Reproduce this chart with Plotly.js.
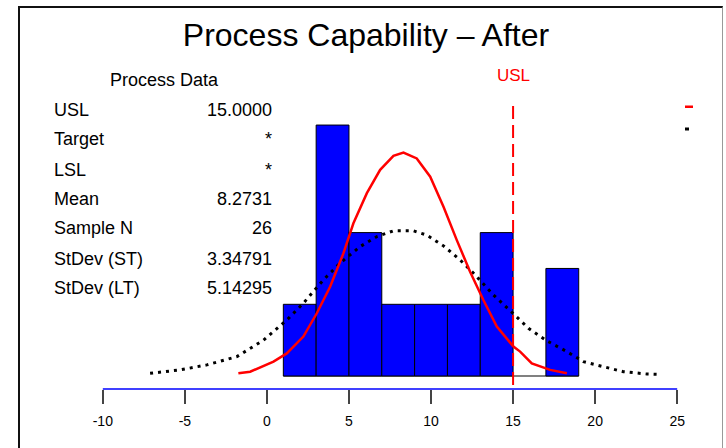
<!DOCTYPE html>
<html>
<head>
<meta charset="utf-8">
<script src="https://cdn.plot.ly/plotly-3.0.1.min.js"></script>
<style>
html,body{margin:0;padding:0;background:#fff;}
#wrap{position:relative;width:726px;height:448px;overflow:hidden;}
#chart{position:absolute;left:0;top:0;width:726px;height:448px;}
#frame{position:absolute;left:18px;top:6px;width:705px;height:470px;box-sizing:border-box;
  border-left:2px solid #111;border-top:2px solid #111;border-right:1px solid #999;pointer-events:none;}
</style>
</head>
<body>
<div id="wrap"><div id="chart"></div><div id="frame"></div></div>
<script>
// ---- data ----
const binCenters = [2, 4, 6, 8, 10, 12, 14, 16, 18];
const binCounts  = [2, 7, 4, 2, 2, 2, 4, 0, 3];
const binWidth   = 2;

// within (ST) fitted curve, red
const stX = [-1.74, -1.02, 0.40, 1.21, 2.22, 3.04, 3.85, 4.66, 5.27, 6.09, 6.90, 7.71, 8.32, 9.13, 9.95, 10.76, 11.57, 12.38, 13.19, 14.01, 15.02, 15.43, 16.14, 17.26, 18.28];
const stY = [0.075, 0.12, 0.40, 0.63, 1.10, 1.75, 2.49, 3.42, 4.26, 5.10, 5.75, 6.14, 6.23, 6.07, 5.56, 4.72, 3.79, 2.91, 2.12, 1.38, 0.82, 0.68, 0.35, 0.17, 0.075];

// overall (LT) fitted curve, black dotted
const ltX = [-7.12, -5.29, -3.66, -1.83, -0.21, 1.21, 2.22, 3.44, 4.46, 5.68, 6.70, 7.71, 8.93, 9.74, 10.76, 11.77, 12.69, 13.80, 14.99, 15.94, 17.06, 18.28, 19.29, 20.51, 21.72, 23.15, 23.76];
const ltY = [0.075, 0.17, 0.31, 0.54, 1.00, 1.56, 2.03, 2.68, 3.15, 3.61, 3.89, 4.05, 4.05, 3.93, 3.63, 3.24, 2.82, 2.26, 1.75, 1.33, 0.98, 0.68, 0.40, 0.26, 0.12, 0.056, 0.05];

const usl = 15;
const tickVals = [-10, -5, 0, 5, 10, 15, 20, 25];
const tickText = ['-10', '-5', '0', '5', '10', '15', '20', '25'];
const axisMin = -10, axisMax = 25;

const procTitle  = 'Process Data';
const procLabels = ['USL', 'Target', 'LSL', 'Mean', 'Sample N', 'StDev (ST)', 'StDev (LT)'];
const procValues = ['15.0000', '*', '*', '8.2731', '26', '3.34791', '5.14295'];

// ---- layout helpers (pixel -> paper) ----
const W = 726, H = 448, L = 70, R = 16, T = 100, B = 59;
const PW = W - L - R, PH = H - T - B;
const xp = px => (px - L) / PW;
const yp = py => (H - B - py) / PH;
const FONT = 'Liberation Sans, Arial, sans-serif';

const rowY = [110, 139, 170, 199, 228, 259, 288];

const annotations = [];
annotations.push({xref:'paper', yref:'paper', x:xp(164), y:yp(80), text:procTitle, showarrow:false,
  xanchor:'center', yanchor:'middle', font:{family:FONT, size:18, color:'#000'}});
procLabels.forEach((lab, i) => {
  annotations.push({xref:'paper', yref:'paper', x:xp(52), y:yp(rowY[i]), text:lab, showarrow:false,
    xanchor:'left', yanchor:'middle', font:{family:FONT, size:18, color:'#000'}});
  annotations.push({xref:'paper', yref:'paper', x:xp(274), y:yp(rowY[i]), text:procValues[i], showarrow:false,
    xanchor:'right', yanchor:'middle', font:{family:FONT, size:18, color:'#000'}});
});
annotations.push({xref:'x', yref:'paper', x:usl, y:yp(75), text:'USL', showarrow:false,
  xanchor:'center', yanchor:'middle', font:{family:FONT, size:17, color:'#FF0000'}});

const shapes = [
  // gray baseline under histogram
  {type:'line', xref:'x', yref:'y', x0:binCenters[0]-binWidth/2, x1:binCenters[binCenters.length-1]+binWidth/2, y0:0, y1:0,
   line:{color:'#808080', width:2}, layer:'below'},
  // blue axis line
  {type:'line', xref:'x', yref:'paper', x0:axisMin, x1:axisMax, y0:0, y1:0, line:{color:'#0000FF', width:1.5}},
  // USL dashed line
  {type:'line', xref:'x', yref:'paper', x0:usl, x1:usl, y0:yp(106), y1:0, line:{color:'#FF0000', width:2, dash:'13px,6px'}},
  // legend samples
  {type:'rect', xref:'paper', yref:'paper', x0:xp(685), x1:xp(693), y0:yp(108), y1:yp(105.5), fillcolor:'#FF0000', line:{width:0}},
  {type:'rect', xref:'paper', yref:'paper', x0:xp(685), x1:xp(689), y0:yp(130.5), y1:yp(127.5), fillcolor:'#000000', line:{width:0}}
];

const barLineColors = binCounts.map(c => c === 0 ? '#808080' : '#000000');

const traces = [
  {type:'bar', x:binCenters, y:binCounts, width:binWidth,
   marker:{color:'#0000FF', line:{color:barLineColors, width:1}}, hoverinfo:'skip'},
  {type:'scatter', mode:'lines', x:ltX, y:ltY, line:{color:'#000000', width:3, dash:'3px,5px'}, hoverinfo:'skip'},
  {type:'scatter', mode:'lines', x:stX, y:stY, line:{color:'#FF0000', width:2.5}, hoverinfo:'skip'}
];

const layout = {
  width:W, height:H,
  margin:{l:L, r:R, t:T, b:B, pad:0},
  paper_bgcolor:'#fff', plot_bgcolor:'#fff',
  showlegend:false,
  bargap:0,
  title:{text:'Process Capability – After', x:366/W, xanchor:'center', y:1-35/H, yanchor:'middle',
         font:{family:FONT, size:32, color:'#000'}},
  xaxis:{range:[-12, 27], showgrid:false, zeroline:false, showline:false,
         tickmode:'array', tickvals:tickVals, ticktext:tickText,
         ticks:'outside', ticklen:14, tickwidth:1.5, tickcolor:'#444',
         ticklabelstandoff:5,
         tickfont:{family:FONT, size:14, color:'#000'}, fixedrange:true},
  yaxis:{range:[-13/35.85, (376-100)/35.85], visible:false, fixedrange:true},
  annotations:annotations,
  shapes:shapes
};

Plotly.newPlot('chart', traces, layout, {displayModeBar:false, staticPlot:true});
</script>
</body>
</html>
